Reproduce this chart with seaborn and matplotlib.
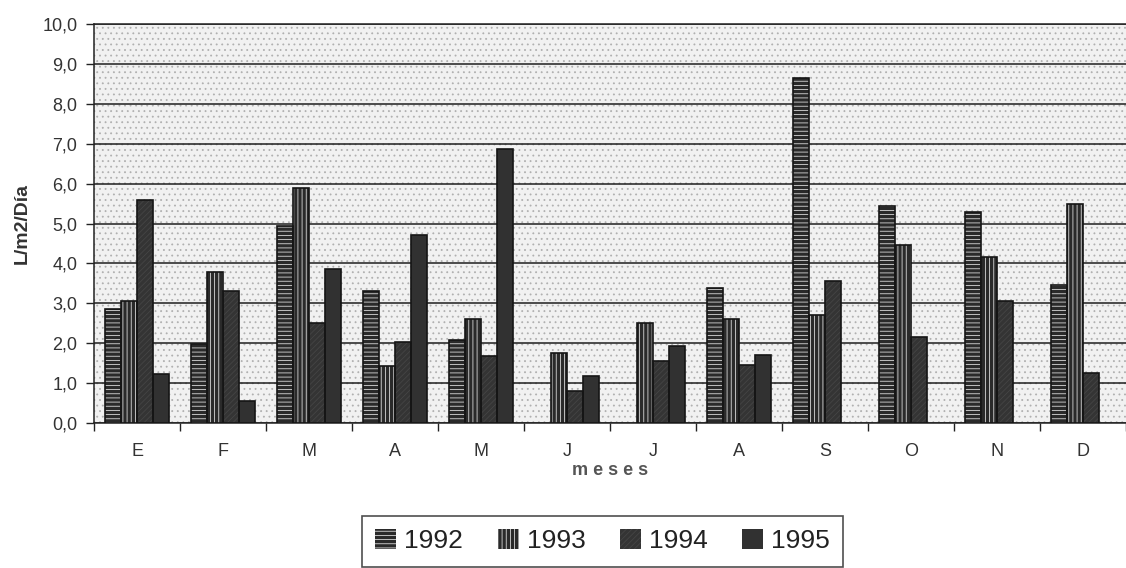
import matplotlib
matplotlib.use("Agg")
import matplotlib.pyplot as plt
import seaborn as sns
import pandas as pd
import numpy as np
from matplotlib.patches import Rectangle, Patch

# ---- data ----
month_keys = ["Ene", "Feb", "Mar", "Abr", "May", "Jun", "Jul", "Ago", "Sep", "Oct", "Nov", "Dic"]
month_labels = ["E", "F", "M", "A", "M", "J", "J", "A", "S", "O", "N", "D"]
years = ["1992", "1993", "1994", "1995"]
v1992 = [2.85, 1.98, 4.95, 3.3, 2.08, np.nan, np.nan, 3.38, 8.65, 5.45, 5.3, 3.45]
v1993 = [3.07, 3.78, 5.9, 1.42, 2.6, 1.75, 2.52, 2.6, 2.7, 4.45, 4.15, 5.5]
v1994 = [5.58, 3.32, 2.5, 2.03, 1.67, 0.8, 1.55, 1.45, 3.55, 2.15, 3.05, 1.25]
v1995 = [1.22, 0.55, 3.85, 4.7, 6.87, 1.18, 1.92, 1.7, np.nan, np.nan, np.nan, np.nan]
y_ticks = [0, 1, 2, 3, 4, 5, 6, 7, 8, 9, 10]
y_tick_labels = ["0,0", "1,0", "2,0", "3,0", "4,0", "5,0", "6,0", "7,0", "8,0", "9,0", "10,0"]

rows = []
for yr, vals in zip(years, [v1992, v1993, v1994, v1995]):
    for m, v in zip(month_keys, vals):
        if not np.isnan(v):
            rows.append({"mes": m, "valor": v, "año": yr})
df = pd.DataFrame(rows)

sns.set_style("white")
plt.rcParams["font.family"] = ["Liberation Sans", "DejaVu Sans"]
plt.rcParams["hatch.linewidth"] = 0.6

fig = plt.figure(figsize=(11.26, 5.68), dpi=100)
ax = fig.add_axes([0.0835, 0.255, 0.9165, 0.703])

pal = {"1992": "#2e2e2e", "1993": "#2e2e2e", "1994": "#353535", "1995": "#303030"}
sns.barplot(data=df, x="mes", y="valor", hue="año", order=month_keys, hue_order=years,
            palette=pal, errorbar=None, width=0.75, ax=ax, legend=False, saturation=1)

styles = {
    "1992": dict(fc="#2a2a2a", hatch="----", hc="#d8d8d8"),
    "1993": dict(fc="#2a2a2a", hatch="||||", hc="#d8d8d8"),
    "1994": dict(fc="#343434", hatch="//////", hc="#454545"),
    "1995": dict(fc="#313131", hatch=None, hc="#313131"),
}
for yr, cont in zip(years, ax.containers):
    st = styles[yr]
    for p in cont.patches:
        p.set_facecolor(st["fc"])
        p.set_edgecolor(st["hc"])
        p.set_linewidth(0)
        if st["hatch"]:
            p.set_hatch(st["hatch"])
        p.set_zorder(3)
        ax.add_patch(Rectangle(p.get_xy(), p.get_width(), p.get_height(), fill=False,
                               edgecolor="#151515", linewidth=1.2, zorder=4))

# background stipple
ax.patch.set_facecolor("#f1f1f1")
ax.patch.set_hatch("...")
ax.patch.set_edgecolor("#b0b0b0")
ax.patch.set_linewidth(0)

ax.set_ylim(0, 10)
ax.set_xlim(-0.5, 11.5)
ax.set_yticks(y_ticks)
ax.set_yticklabels(y_tick_labels, fontsize=13, color="#333333")
ax.yaxis.grid(True, color="#1e1e1e", linewidth=1.1)
ax.set_axisbelow(True)

ax.set_xticks(np.arange(-0.5, 12, 1))
ax.set_xticklabels([])
ax.set_xticks(np.arange(12), minor=True)
ax.set_xticklabels(month_labels, minor=True, fontsize=13, color="#333333")
ax.tick_params(axis="x", which="major", direction="out", length=6, width=1, color="#222222", bottom=True)
ax.tick_params(axis="x", which="minor", length=0, pad=14)
ax.tick_params(axis="y", direction="out", length=6, width=1, color="#222222", left=True, pad=6)

for s in ["top", "left", "bottom"]:
    ax.spines[s].set_visible(True)
    ax.spines[s].set_color("#222222")
    ax.spines[s].set_linewidth(1.1)
ax.spines["right"].set_visible(False)

ax.set_ylabel("L/m2/Día", fontsize=14, fontweight="bold", color="#333333", labelpad=8)
ax.set_xlabel("m e s e s", fontsize=13, fontweight="bold", color="#555555", labelpad=2)

# legend
handles = []
for yr in years:
    st = styles[yr]
    handles.append(Patch(facecolor=st["fc"], edgecolor=st["hc"], hatch=st["hatch"], linewidth=0))
leg = fig.legend(handles, years, loc="center", bbox_to_anchor=(0.535, 0.047), ncol=4,
                 frameon=True, fontsize=19, handlelength=0.8, handleheight=0.8,
                 handletextpad=0.3, columnspacing=1.3, borderpad=0.5, fancybox=False)
leg.get_frame().set_edgecolor("#222222")
leg.get_frame().set_linewidth(1.2)
for t in leg.get_texts():
    t.set_color("#222222")

fig.savefig("out.png", dpi=100)
